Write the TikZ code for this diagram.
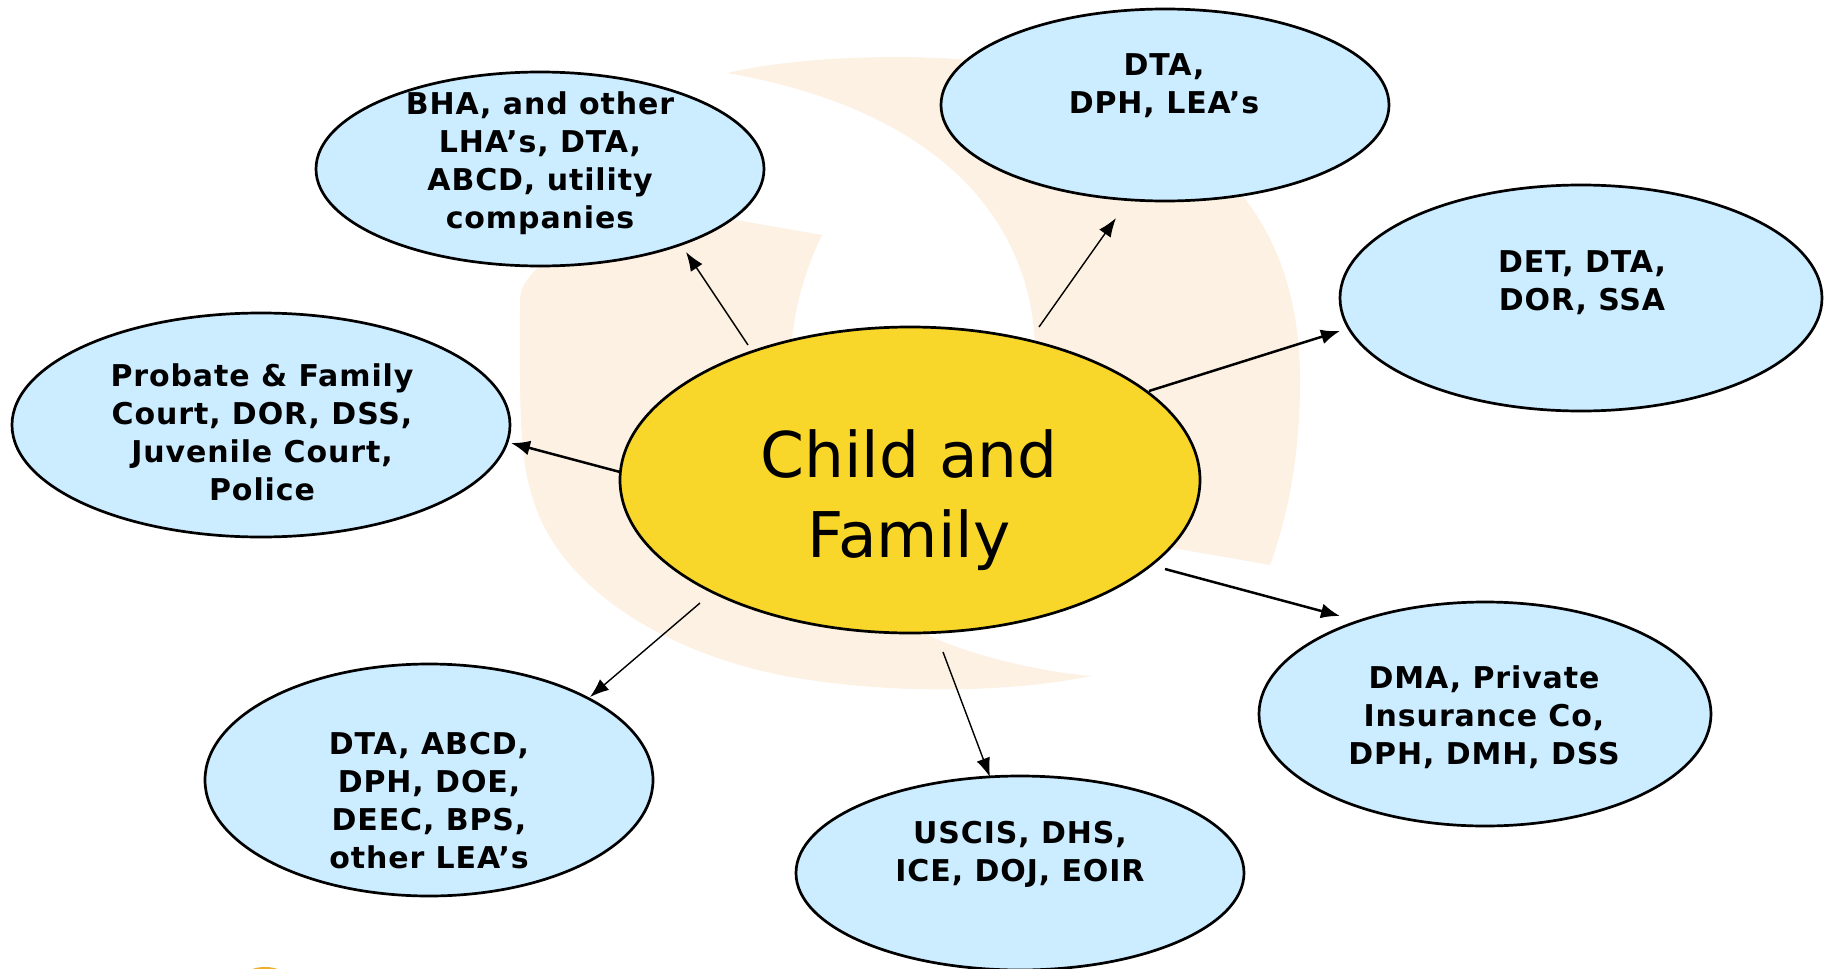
\documentclass[tikz,border=0pt]{standalone}
\usepackage{fontspec}
\setmainfont{DejaVu Sans}
\newfontfamily\lblfont{DejaVu Sans}[LetterSpace=3]
\usetikzlibrary{arrows.meta,shapes.geometric}
\definecolor{peach}{HTML}{FDF1E3}
\definecolor{bubblefill}{HTML}{CCECFF}
\definecolor{corefill}{HTML}{F9D72A}
\definecolor{logoorange}{HTML}{EFAE2E}
\tikzset{
  bubble/.style={ellipse, draw=black, line width=2.7pt, fill=bubblefill, inner sep=0pt},
  core/.style={ellipse, draw=black, line width=2.7pt, fill=corefill, inner sep=0pt},
  lbl/.style={align=center, inner sep=0pt, font=\lblfont\bfseries\fontsize{30}{38}\selectfont},
  corelbl/.style={align=center, inner sep=0pt, font=\fontsize{63}{79.5}\selectfont},
  thinarrow/.style={line width=1.4pt, -{Latex[length=19pt,width=14pt]}},
  thickarrow/.style={line width=2.5pt, -{Latex[length=19pt,width=15pt]}}
}
\begin{document}
\begin{tikzpicture}[x=1pt,y=-1pt]
\useasboundingbox (0,0) rectangle (1832,969);
\clip (0,0) rectangle (1832,969);
\fill[white] (0,0) rectangle (1832,969);
% background logo: right crescent
\fill[peach] (727,73) .. controls (790,58) and (900,52) .. (990,62)
  .. controls (1050,70) and (1090,90) .. (1120,110)
  .. controls (1250,160) and (1300,260) .. (1300,380)
  .. controls (1300,450) and (1290,510) .. (1270,565)
  -- (1173,548) -- (1060,520) -- (1035,345)
  .. controls (1030,220) and (940,110) .. (727,73) -- cycle;
% background logo: left crescent
\fill[peach] (690,212) -- (822,235)
  .. controls (805,270) and (793,310) .. (790,360)
  -- (900,620) -- (930,636)
  .. controls (970,655) and (1040,672) .. (1092,676)
  .. controls (1000,694) and (880,694) .. (780,675)
  .. controls (650,648) and (560,580) .. (535,505)
  .. controls (518,460) and (520,400) .. (520,300)
  .. controls (521,260) and (600,225) .. (690,212) -- cycle;
% small logo piece at the bottom left
\fill[logoorange] (265,978) ellipse [x radius=22, y radius=11];

% nodes
\node[core, minimum width=580pt, minimum height=306pt] (cf) at (910,480) {};
\node[bubble, minimum width=448pt, minimum height=194pt] (bha) at (540,169) {};
\node[bubble, minimum width=448pt, minimum height=192pt] (dta) at (1165,105) {};
\node[bubble, minimum width=482pt, minimum height=226pt] (det) at (1581,298) {};
\node[bubble, minimum width=498pt, minimum height=224pt] (pfc) at (261,425) {};
\node[bubble, minimum width=452pt, minimum height=224pt] (dma) at (1485,714) {};
\node[bubble, minimum width=448pt, minimum height=194pt] (usc) at (1020,873) {};
\node[bubble, minimum width=448pt, minimum height=232pt] (abc) at (429,780) {};

% texts
\node[corelbl] (cfT) at (909,500) {Child and\\Family};
\node[lbl] (bhaT) at (540,163) {BHA, and other\\LHA’s, DTA,\\ABCD, utility\\companies};
\node[lbl] (dtaT) at (1164,86) {DTA,\\DPH, LEA’s};
\node[lbl] (detT) at (1582,283) {DET, DTA,\\DOR, SSA};
\node[lbl] (pfcT) at (262,432) {Probate \& Family\\Court, DOR, DSS,\\Juvenile Court,\\Police};
\node[lbl] (dmaT) at (1484,717) {DMA, Private\\Insurance Co,\\DPH, DMH, DSS};
\node[lbl] (uscT) at (1020,854) {USCIS, DHS,\\ICE, DOJ, EOIR};
\node[lbl] (abcT) at (429,801) {DTA, ABCD,\\DPH, DOE,\\DEEC, BPS,\\other LEA’s};

% connector end points
\coordinate (a1s) at (748,345); \coordinate (a1e) at (686,252);
\coordinate (a2s) at (1039,327); \coordinate (a2e) at (1116,218);
\coordinate (a3s) at (1149,391); \coordinate (a3e) at (1340,331);
\coordinate (a4s) at (620,472); \coordinate (a4e) at (511,443);
\coordinate (a5s) at (1165,569); \coordinate (a5e) at (1340,616);
\coordinate (a6s) at (943,652); \coordinate (a6e) at (990,777);
\coordinate (a7s) at (700,603); \coordinate (a7e) at (590,697);

\draw[thinarrow] (a1s) -- (a1e);
\draw[thinarrow] (a2s) -- (a2e);
\draw[thickarrow] (a3s) -- (a3e);
\draw[thickarrow] (a4s) -- (a4e);
\draw[thickarrow] (a5s) -- (a5e);
\draw[thinarrow] (a6s) -- (a6e);
\draw[thinarrow] (a7s) -- (a7e);
\end{tikzpicture}
\end{document}
